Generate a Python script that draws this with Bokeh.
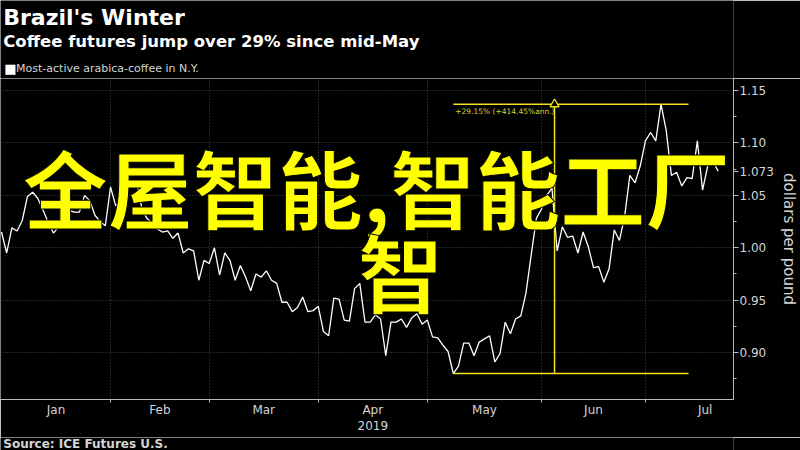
from bokeh.plotting import figure
from bokeh.layouts import column
from bokeh.models import Range1d, FixedTicker, Label, PrintfTickFormatter, ColumnDataSource
from bokeh.embed import file_html
from bokeh.resources import INLINE

# ---- texts ----
title_text = "Brazil's Winter"
subtitle_text = "Coffee futures jump over 29% since mid-May"
series_name = "Most-active arabica-coffee in N.Y."
source_note = "Source: ICE Futures U.S."
y_label = "dollars per pound"
overlay_line1 = "全屋智能,智能工厂"
overlay_line2 = "智"
change_text = "+29.15% (+414.45%ann.)"
last_label = "1.073"

# ---- axes ----
months = ["Jan", "Feb", "Mar", "Apr", "May", "Jun", "Jul"]
month_trading_days = [21, 19, 21, 21, 22, 20, 23]
year_label = "2019"
year_month = "Apr"
y_ticks = [0.90, 0.95, 1.00, 1.05, 1.10, 1.15]
y_minor = [0.875, 0.925, 0.975, 1.025, 1.075, 1.125]

# ---- data: daily settlement, dollars per pound (trading days from Jan 2, 2019) ----
prices = [
    1.015, 0.995, 1.019, 1.016, 1.026, 1.049, 1.053, 1.047, 1.036, 1.024,
    1.014, 1.020, 1.031, 1.036, 1.034, 1.034, 1.050, 1.045, 1.031, 1.025,
    1.021, 1.058, 1.040, 1.045, 1.055, 1.064, 1.064, 1.038, 1.028, 1.024,
    1.018, 1.015, 1.016, 1.009, 1.014, 0.995, 0.999, 0.997, 0.969, 0.988,
    0.985, 1.000, 0.974, 0.995, 0.988, 0.969, 0.983, 0.972, 0.959, 0.975,
    0.972, 0.978, 0.969, 0.966, 0.948, 0.948, 0.939, 0.943, 0.953, 0.939,
    0.940, 0.944, 0.920, 0.916, 0.952, 0.951, 0.931, 0.930, 0.961, 0.966,
    0.929, 0.929, 0.936, 0.932, 0.897, 0.929, 0.929, 0.932, 0.924, 0.933,
    0.937, 0.927, 0.931, 0.915, 0.914, 0.907, 0.901, 0.880, 0.887, 0.909,
    0.909, 0.897, 0.910, 0.913, 0.916, 0.891, 0.899, 0.929, 0.918, 0.932,
    0.935, 0.957, 0.993, 1.028, 1.037, 1.050, 1.057, 0.997, 1.020, 1.010,
    1.011, 0.995, 1.015, 1.001, 0.981, 0.982, 0.967, 0.980, 1.017, 1.007,
    1.030, 1.069, 1.062, 1.078, 1.102, 1.110, 1.102, 1.137, 1.112, 1.069,
    1.072, 1.059, 1.067, 1.066, 1.102, 1.055, 1.078, 1.083, 1.073,
]
days = list(range(len(prices)))

# annotation anchors (trading-day index)
ann_start = 87
ann_mid = 106.5
ann_end = 132.3

# ---- derived ----
starts = [0]
for d in month_trading_days:
    starts.append(starts[-1] + d)
boundaries = starts[1:-1]
mids = [(starts[k] + starts[k + 1]) / 2 for k in range(len(months))]
labels = {}
for m, name in zip(mids, months):
    labels[m] = name + ("\n" + year_label if name == year_month else "")

low = min(prices)
high = max(prices)
last = prices[-1]

FONT = "DejaVu Sans"
YELLOW = "#f3e21c"
GRID = "#4a4a4a"
AX = "#b8b8b8"
TXT = "#d4d4d4"
W = 800
HEAD_H, FOOT_H = 78, 13
MAIN_H = 450 - HEAD_H - FOOT_H


def blank(h):
    f = figure(width=W, height=h, x_range=Range1d(0, W), y_range=Range1d(0, h),
               x_axis_type=None, y_axis_type=None, output_backend="svg",
               toolbar_location=None, background_fill_color="black",
               border_fill_color="black", outline_line_color=None, min_border=0)
    f.grid.visible = False
    return f


# ---------------- header ----------------
head = blank(HEAD_H)
head.add_layout(Label(x=3, y=61, text=title_text, text_baseline="middle",
                      text_font=FONT, text_font_style="bold",
                      text_font_size="22px", text_color="white"))
head.add_layout(Label(x=3, y=37, text=subtitle_text, text_baseline="middle",
                      text_font=FONT, text_font_style="bold",
                      text_font_size="16.5px", text_color="white"))
head.add_layout(Label(x=4, y=10, text="■", text_baseline="middle", text_font=FONT,
                      text_font_size="13px", text_color="white"))
head.add_layout(Label(x=17, y=10, text=series_name, text_baseline="middle",
                      text_font=FONT, text_font_size="11px", text_color=TXT))

# ---------------- main chart ----------------
p = figure(
    width=W, height=MAIN_H,
    x_range=Range1d(-0.19, 140.96), y_range=Range1d(0.8552, 1.1615),
    output_backend="svg", toolbar_location=None,
    background_fill_color="black", border_fill_color="black",
    outline_line_color=None,
    min_border_left=0, min_border_top=0, min_border_right=66, min_border_bottom=38,
    y_axis_location="right",
)

xa = p.xaxis[0]
xa.ticker = FixedTicker(ticks=mids, minor_ticks=boundaries)
xa.major_label_overrides = labels
xa.major_tick_line_color = None
xa.major_tick_out = 0
xa.major_tick_in = 0
xa.minor_tick_line_color = AX
xa.minor_tick_out = 3
xa.minor_tick_in = 0
xa.axis_line_color = AX
xa.major_label_text_color = TXT
xa.major_label_text_font = FONT
xa.major_label_text_font_size = "12px"
xa.major_label_standoff = 0

ya = p.yaxis[0]
ya.ticker = FixedTicker(ticks=y_ticks + [last], minor_ticks=y_minor)
ya.formatter = PrintfTickFormatter(format="%.2f")
ya.major_label_overrides = {last: last_label}
ya.major_tick_out = 5
ya.major_tick_in = 0
ya.minor_tick_out = 3
ya.minor_tick_in = 0
ya.major_tick_line_color = AX
ya.minor_tick_line_color = AX
ya.axis_line_color = AX
ya.major_label_text_color = TXT
ya.major_label_text_font = FONT
ya.major_label_text_font_size = "12px"
ya.major_label_standoff = 1
ya.axis_label = y_label
ya.axis_label_text_font = FONT
ya.axis_label_text_font_style = "normal"
ya.axis_label_text_font_size = "15px"
ya.axis_label_text_color = TXT
ya.axis_label_standoff = 3

p.xgrid.ticker = FixedTicker(ticks=boundaries)
p.ygrid.ticker = FixedTicker(ticks=y_ticks)
for g in (p.xgrid, p.ygrid):
    g.grid_line_color = GRID
    g.grid_line_dash = "1 2"
    g.grid_line_width = 1

src = ColumnDataSource(dict(day=days, price=prices))
p.line("day", "price", source=src, line_color="white", line_width=1.3)

p.segment(x0=[ann_start, ann_start, ann_mid], y0=[high, low, low],
          x1=[ann_end, ann_end, ann_mid], y1=[high, low, high],
          line_color=YELLOW, line_width=1.5)
p.scatter(x=[ann_mid], y=[high], marker="triangle", size=9,
          fill_color="black", line_color=YELLOW, line_width=1.3)
p.add_layout(Label(x=ann_start, y=high, text=change_text, x_offset=2, y_offset=-7,
                   text_baseline="middle", text_font=FONT, text_font_size="7.5px",
                   text_color="#d9cf3a"))

p.add_layout(Label(x=376, y=214, x_units="screen", y_units="screen", text=overlay_line1,
                   text_align="center", text_baseline="middle",
                   text_font="Noto Sans CJK SC", text_font_style="bold",
                   text_font_size="85px", text_color="#ffff00",
                   text_outline_color="black"))
p.add_layout(Label(x=400, y=130, x_units="screen", y_units="screen", text=overlay_line2,
                   text_align="center", text_baseline="middle",
                   text_font="Noto Sans CJK SC", text_font_style="bold",
                   text_font_size="85px", text_color="#ffff00",
                   text_outline_color="black"))

# ---------------- footer ----------------
foot = blank(FOOT_H)
foot.add_layout(Label(x=3, y=7, text=source_note, text_baseline="middle",
                      text_font=FONT, text_font_style="bold",
                      text_font_size="12px", text_color=TXT))

layout = column(head, p, foot, spacing=0)
open("out.html", "w").write(file_html(layout, INLINE))
